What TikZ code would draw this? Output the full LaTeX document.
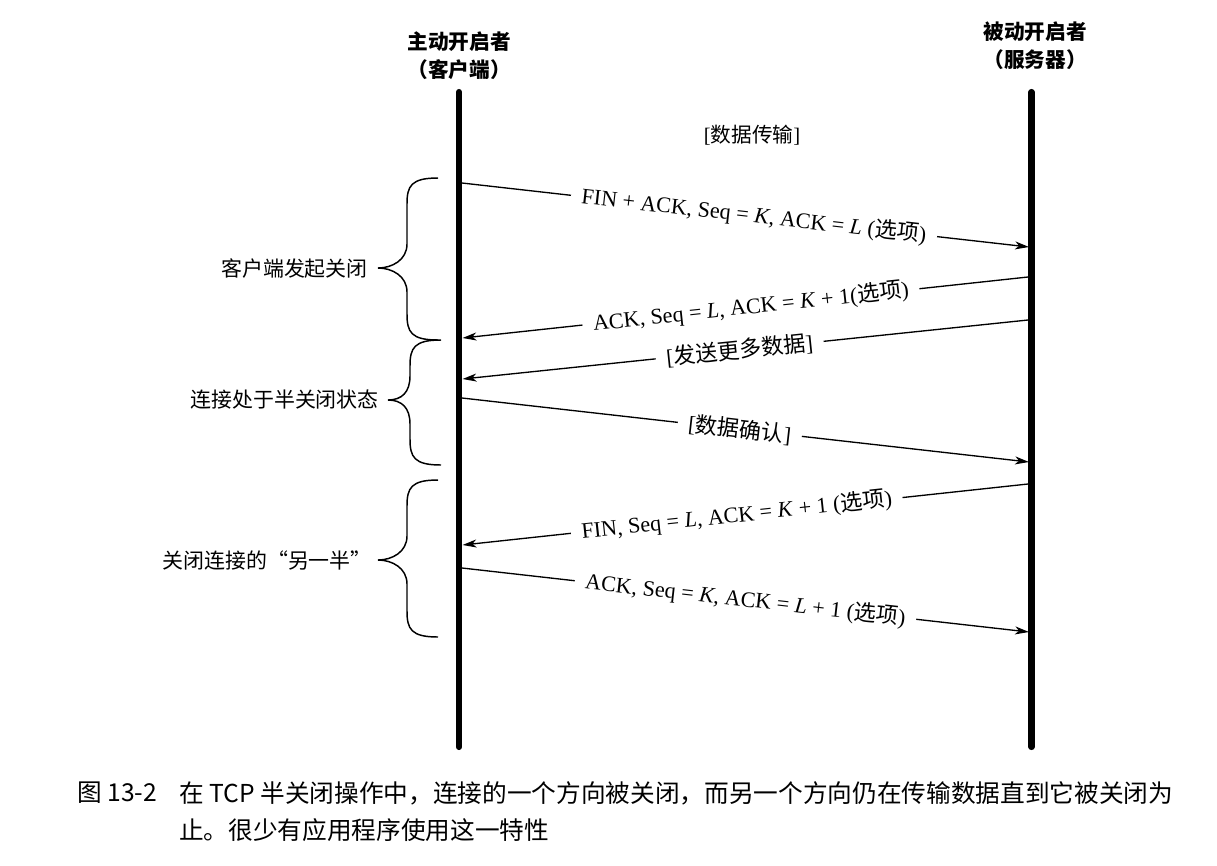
\documentclass[tikz,border=0pt]{standalone}
\usepackage{fontspec}
\setmainfont{Liberation Serif}
\newfontfamily\cjk{Noto Sans CJK SC}
\usetikzlibrary{arrows.meta}

% curly brace opening to the right: end x, stem x, tip x, top y, tip y, bottom y
\newcommand\curlybrace[6]{%
  \draw[bracepath] (#1,#4) .. controls (#2+4,#4) and (#2,#4+8) .. (#2,#4+26)
    -- (#2,#5-24) .. controls (#2,#5-8) and (#3+14,#5) .. (#3,#5)
    .. controls (#3+14,#5) and (#2,#5+8) .. (#2,#5+24)
    -- (#2,#6-26) .. controls (#2,#6-8) and (#2+4,#6) .. (#1,#6);}

\begin{document}
\begin{tikzpicture}[x=0.75pt,y=-0.75pt,
  lifeline/.style={line width=4.6pt, line cap=round},
  msg/.style={line width=1pt, -{Stealth[length=10.5pt,width=6pt,inset=3pt]}},
  msglabel/.style={fill=white, inner xsep=8pt, inner ysep=3pt,
    font=\fontsize{16.6}{18}\selectfont},
  down/.style={msglabel, rotate=-6.44},
  up/.style={msglabel, rotate=#1},
  bracepath/.style={line width=1.1pt},
  phase/.style={anchor=east, inner sep=0pt, font=\cjk\fontsize{15.7}{18}\selectfont},
  head/.style={font=\cjk\bfseries\fontsize{15.5}{21}\selectfont, align=center},
  caption/.style={anchor=west, inner sep=0pt, font=\cjk\fontsize{18.5}{22}\selectfont},
]
\useasboundingbox (0,0) rectangle (1217,865);

% headers of the two hosts
\node[head] (client) at (459,56) {主动开启者\\（客户端）};
\node[head] (server) at (1035,46) {被动开启者\\（服务器）};

% lifelines
\coordinate (Ltop) at (459,92);
\coordinate (Lbot) at (459,747);
\coordinate (Rtop) at (1031.5,92);
\coordinate (Rbot) at (1031.5,747);
\draw[lifeline] (Ltop) -- (Lbot);
\draw[lifeline] (Rtop) -- (Rbot);

\node[font=\fontsize{15.5}{18}\selectfont] (xfer) at (752,135) {[{\cjk 数据传输}]};

% message end points on the lifelines
\coordinate (m1a) at (462,183);  \coordinate (m1b) at (1029,247);
\coordinate (m2a) at (1028,277); \coordinate (m2b) at (462.5,338);
\coordinate (m3a) at (1028,320); \coordinate (m3b) at (462.5,379);
\coordinate (m4a) at (462,398);  \coordinate (m4b) at (1029,462);
\coordinate (m5a) at (1028,484); \coordinate (m5b) at (462.5,545);
\coordinate (m6a) at (462,568);  \coordinate (m6b) at (1029,632);

\draw[msg] (m1a) -- node[down, pos=0.515] (l1)
  {FIN + ACK, Seq = \textit{K}, ACK = \textit{L} ({\cjk 选项})} (m1b);
\draw[msg] (m2a) -- node[up=6.15, pos=0.49] (l2)
  {ACK, Seq = \textit{L}, ACK = \textit{K} + 1({\cjk 选项})} (m2b);
\draw[msg] (m3a) -- node[up=5.95, pos=0.51] (l3)
  {[{\cjk 发送更多数据}]} (m3b);
\draw[msg] (m4a) -- node[down, pos=0.49] (l4)
  {[{\cjk 数据确认}]} (m4b);
\draw[msg] (m5a) -- node[up=6.15, pos=0.515] (l5)
  {FIN, Seq = \textit{L}, ACK = \textit{K} + 1 ({\cjk 选项})} (m5b);
\draw[msg] (m6a) -- node[down, pos=0.5] (l6)
  {ACK, Seq = \textit{K}, ACK = \textit{L} + 1 ({\cjk 选项})} (m6b);

% phase braces and their labels
\curlybrace{438}{407}{378}{178}{268}{340}
\curlybrace{441}{410}{388}{340}{400}{465}
\curlybrace{438}{407}{378}{480}{560}{637}
\node[phase] (p1) at (368,269) {客户端发起关闭};
\node[phase] (p2) at (379,400) {连接处于半关闭状态};
\node[phase] (p3) at (372,560) {关闭连接的“另一半”};

% caption
\node[caption] (fig) at (77,793) {图 13-2};
\node[caption] (cap1) at (179,793) {在 TCP 半关闭操作中，连接的一个方向被关闭，而另一个方向仍在传输数据直到它被关闭为};
\node[caption] (cap2) at (179,830) {止。很少有应用程序使用这一特性};
\end{tikzpicture}
\end{document}
